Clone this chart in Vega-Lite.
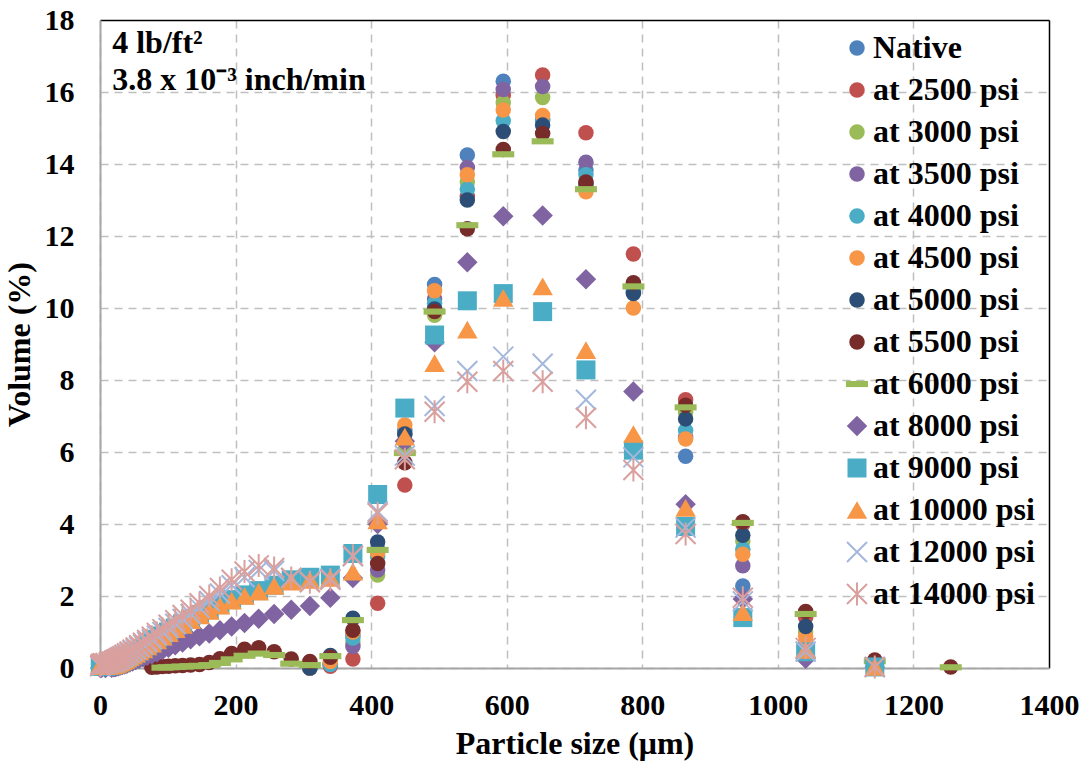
{
  "$schema": "https://vega.github.io/schema/vega-lite/v6.json",
  "width": 949,
  "height": 648,
  "padding": {"left": 3, "top": 5, "right": 33, "bottom": 5},
  "background": "white",
  "config": {
    "font": "Liberation Serif",
    "view": {"stroke": null},
    "axis": {
      "grid": true,
      "gridColor": "#BFBFBF",
      "gridWidth": 1.5,
      "domainColor": "#A6A6A6",
      "domainWidth": 2,
      "ticks": false,
      "labelFlush": false,
      "labelFont": "Liberation Serif",
      "labelFontSize": 30,
      "labelFontWeight": "bold",
      "labelColor": "#000000",
      "titleFont": "Liberation Serif",
      "titleFontSize": 32,
      "titleFontWeight": "bold",
      "titleColor": "#000000"
    },
    "legend": {
      "orient": "none",
      "legendX": 741,
      "legendY": 12,
      "padding": 0,
      "labelFont": "Liberation Serif",
      "labelFontSize": 32,
      "labelFontWeight": "bold",
      "labelColor": "#000000",
      "labelLimit": 400,
      "rowPadding": 10,
      "labelOffset": 0,
      "symbolStrokeWidth": 2,
      "title": null
    }
  },
  "layer": [
    {
      "data": {
        "values": [
          {"series": "Native", "size": 309.6, "volume": 0},
          {"series": "Native", "size": 339.8, "volume": 0.1},
          {"series": "Native", "size": 373.1, "volume": 0.9},
          {"series": "Native", "size": 409.6, "volume": 3.3},
          {"series": "Native", "size": 449.7, "volume": 6.6},
          {"series": "Native", "size": 493.6, "volume": 10.65},
          {"series": "Native", "size": 541.9, "volume": 14.25},
          {"series": "Native", "size": 594.9, "volume": 16.3},
          {"series": "Native", "size": 653.0, "volume": 15.2},
          {"series": "Native", "size": 716.9, "volume": 13.83},
          {"series": "Native", "size": 786.9, "volume": 10.45},
          {"series": "Native", "size": 863.9, "volume": 5.88},
          {"series": "Native", "size": 948.3, "volume": 2.28},
          {"series": "Native", "size": 1041, "volume": 0.6},
          {"series": "Native", "size": 1143, "volume": 0.05},

          {"series": "at 2500 psi", "size": 309.6, "volume": 0},
          {"series": "at 2500 psi", "size": 339.8, "volume": 0.05},
          {"series": "at 2500 psi", "size": 373.1, "volume": 0.25},
          {"series": "at 2500 psi", "size": 409.6, "volume": 1.8},
          {"series": "at 2500 psi", "size": 449.7, "volume": 5.08},
          {"series": "at 2500 psi", "size": 493.6, "volume": 10.0},
          {"series": "at 2500 psi", "size": 541.9, "volume": 13.1},
          {"series": "at 2500 psi", "size": 594.9, "volume": 15.9},
          {"series": "at 2500 psi", "size": 653.0, "volume": 16.47},
          {"series": "at 2500 psi", "size": 716.9, "volume": 14.87},
          {"series": "at 2500 psi", "size": 786.9, "volume": 11.5},
          {"series": "at 2500 psi", "size": 863.9, "volume": 7.45},
          {"series": "at 2500 psi", "size": 948.3, "volume": 4.0},
          {"series": "at 2500 psi", "size": 1041, "volume": 1.4},
          {"series": "at 2500 psi", "size": 1143, "volume": 0.15},

          {"series": "at 3000 psi", "size": 309.6, "volume": 0},
          {"series": "at 3000 psi", "size": 339.8, "volume": 0.12},
          {"series": "at 3000 psi", "size": 373.1, "volume": 0.7},
          {"series": "at 3000 psi", "size": 409.6, "volume": 2.58},
          {"series": "at 3000 psi", "size": 449.7, "volume": 6.05},
          {"series": "at 3000 psi", "size": 493.6, "volume": 9.8},
          {"series": "at 3000 psi", "size": 541.9, "volume": 13.5},
          {"series": "at 3000 psi", "size": 594.9, "volume": 15.7},
          {"series": "at 3000 psi", "size": 653.0, "volume": 15.85},
          {"series": "at 3000 psi", "size": 716.9, "volume": 13.4},
          {"series": "at 3000 psi", "size": 786.9, "volume": 10.65},
          {"series": "at 3000 psi", "size": 863.9, "volume": 7.1},
          {"series": "at 3000 psi", "size": 948.3, "volume": 3.53},
          {"series": "at 3000 psi", "size": 1041, "volume": 1.0},
          {"series": "at 3000 psi", "size": 1143, "volume": 0.1},

          {"series": "at 3500 psi", "size": 309.6, "volume": 0},
          {"series": "at 3500 psi", "size": 339.8, "volume": 0.1},
          {"series": "at 3500 psi", "size": 373.1, "volume": 0.6},
          {"series": "at 3500 psi", "size": 409.6, "volume": 2.72},
          {"series": "at 3500 psi", "size": 449.7, "volume": 6.3},
          {"series": "at 3500 psi", "size": 493.6, "volume": 10.25},
          {"series": "at 3500 psi", "size": 541.9, "volume": 13.9},
          {"series": "at 3500 psi", "size": 594.9, "volume": 16.07},
          {"series": "at 3500 psi", "size": 653.0, "volume": 16.15},
          {"series": "at 3500 psi", "size": 716.9, "volume": 14.05},
          {"series": "at 3500 psi", "size": 786.9, "volume": 10.6},
          {"series": "at 3500 psi", "size": 863.9, "volume": 6.4},
          {"series": "at 3500 psi", "size": 948.3, "volume": 2.84},
          {"series": "at 3500 psi", "size": 1041, "volume": 0.5},
          {"series": "at 3500 psi", "size": 1143, "volume": 0.05},

          {"series": "at 4000 psi", "size": 309.6, "volume": 0},
          {"series": "at 4000 psi", "size": 339.8, "volume": 0.1},
          {"series": "at 4000 psi", "size": 373.1, "volume": 0.83},
          {"series": "at 4000 psi", "size": 409.6, "volume": 3.1},
          {"series": "at 4000 psi", "size": 449.7, "volume": 6.5},
          {"series": "at 4000 psi", "size": 493.6, "volume": 10.13},
          {"series": "at 4000 psi", "size": 541.9, "volume": 13.3},
          {"series": "at 4000 psi", "size": 594.9, "volume": 15.2},
          {"series": "at 4000 psi", "size": 653.0, "volume": 15.25},
          {"series": "at 4000 psi", "size": 716.9, "volume": 13.7},
          {"series": "at 4000 psi", "size": 786.9, "volume": 10.5},
          {"series": "at 4000 psi", "size": 863.9, "volume": 6.6},
          {"series": "at 4000 psi", "size": 948.3, "volume": 3.3},
          {"series": "at 4000 psi", "size": 1041, "volume": 0.7},
          {"series": "at 4000 psi", "size": 1143, "volume": 0.05},

          {"series": "at 4500 psi", "size": 309.6, "volume": 0},
          {"series": "at 4500 psi", "size": 339.8, "volume": 0.18},
          {"series": "at 4500 psi", "size": 373.1, "volume": 1.0},
          {"series": "at 4500 psi", "size": 409.6, "volume": 3.2},
          {"series": "at 4500 psi", "size": 449.7, "volume": 6.75},
          {"series": "at 4500 psi", "size": 493.6, "volume": 10.48},
          {"series": "at 4500 psi", "size": 541.9, "volume": 13.7},
          {"series": "at 4500 psi", "size": 594.9, "volume": 15.5},
          {"series": "at 4500 psi", "size": 653.0, "volume": 15.35},
          {"series": "at 4500 psi", "size": 716.9, "volume": 13.23},
          {"series": "at 4500 psi", "size": 786.9, "volume": 10.0},
          {"series": "at 4500 psi", "size": 863.9, "volume": 6.36},
          {"series": "at 4500 psi", "size": 948.3, "volume": 3.16},
          {"series": "at 4500 psi", "size": 1041, "volume": 0.88},
          {"series": "at 4500 psi", "size": 1143, "volume": 0.07},

          {"series": "at 5000 psi", "size": 309.6, "volume": 0},
          {"series": "at 5000 psi", "size": 339.8, "volume": 0.35},
          {"series": "at 5000 psi", "size": 373.1, "volume": 1.38},
          {"series": "at 5000 psi", "size": 409.6, "volume": 3.5},
          {"series": "at 5000 psi", "size": 449.7, "volume": 6.5},
          {"series": "at 5000 psi", "size": 493.6, "volume": 9.97},
          {"series": "at 5000 psi", "size": 541.9, "volume": 13.0},
          {"series": "at 5000 psi", "size": 594.9, "volume": 14.9},
          {"series": "at 5000 psi", "size": 653.0, "volume": 15.08},
          {"series": "at 5000 psi", "size": 716.9, "volume": 13.45},
          {"series": "at 5000 psi", "size": 786.9, "volume": 10.4},
          {"series": "at 5000 psi", "size": 863.9, "volume": 6.92},
          {"series": "at 5000 psi", "size": 948.3, "volume": 3.69},
          {"series": "at 5000 psi", "size": 1041, "volume": 1.15},
          {"series": "at 5000 psi", "size": 1143, "volume": 0.1},

          {"series": "at 5500 psi", "size": 76.42, "volume": 0.02},
          {"series": "at 5500 psi", "size": 83.89, "volume": 0.03},
          {"series": "at 5500 psi", "size": 92.09, "volume": 0.04},
          {"series": "at 5500 psi", "size": 101.1, "volume": 0.05},
          {"series": "at 5500 psi", "size": 111.0, "volume": 0.06},
          {"series": "at 5500 psi", "size": 121.8, "volume": 0.07},
          {"series": "at 5500 psi", "size": 133.7, "volume": 0.08},
          {"series": "at 5500 psi", "size": 146.8, "volume": 0.1},
          {"series": "at 5500 psi", "size": 161.2, "volume": 0.15},
          {"series": "at 5500 psi", "size": 176.9, "volume": 0.26},
          {"series": "at 5500 psi", "size": 194.2, "volume": 0.4},
          {"series": "at 5500 psi", "size": 213.2, "volume": 0.52},
          {"series": "at 5500 psi", "size": 234.1, "volume": 0.56},
          {"series": "at 5500 psi", "size": 256.9, "volume": 0.45},
          {"series": "at 5500 psi", "size": 282.1, "volume": 0.25},
          {"series": "at 5500 psi", "size": 309.6, "volume": 0.18},
          {"series": "at 5500 psi", "size": 339.8, "volume": 0.3},
          {"series": "at 5500 psi", "size": 373.1, "volume": 1.05},
          {"series": "at 5500 psi", "size": 409.6, "volume": 2.9},
          {"series": "at 5500 psi", "size": 449.7, "volume": 5.7},
          {"series": "at 5500 psi", "size": 493.6, "volume": 9.9},
          {"series": "at 5500 psi", "size": 541.9, "volume": 12.2},
          {"series": "at 5500 psi", "size": 594.9, "volume": 14.4},
          {"series": "at 5500 psi", "size": 653.0, "volume": 14.85},
          {"series": "at 5500 psi", "size": 716.9, "volume": 13.5},
          {"series": "at 5500 psi", "size": 786.9, "volume": 10.7},
          {"series": "at 5500 psi", "size": 863.9, "volume": 7.3},
          {"series": "at 5500 psi", "size": 948.3, "volume": 4.06},
          {"series": "at 5500 psi", "size": 1041, "volume": 1.57},
          {"series": "at 5500 psi", "size": 1143, "volume": 0.22},
          {"series": "at 5500 psi", "size": 1255, "volume": 0.03},

          {"series": "at 6000 psi", "size": 92.09, "volume": 0.01},
          {"series": "at 6000 psi", "size": 101.1, "volume": 0.02},
          {"series": "at 6000 psi", "size": 111.0, "volume": 0.03},
          {"series": "at 6000 psi", "size": 121.8, "volume": 0.04},
          {"series": "at 6000 psi", "size": 133.7, "volume": 0.05},
          {"series": "at 6000 psi", "size": 146.8, "volume": 0.06},
          {"series": "at 6000 psi", "size": 161.2, "volume": 0.08},
          {"series": "at 6000 psi", "size": 176.9, "volume": 0.14},
          {"series": "at 6000 psi", "size": 194.2, "volume": 0.24},
          {"series": "at 6000 psi", "size": 213.2, "volume": 0.34},
          {"series": "at 6000 psi", "size": 234.1, "volume": 0.4},
          {"series": "at 6000 psi", "size": 256.9, "volume": 0.36},
          {"series": "at 6000 psi", "size": 282.1, "volume": 0.12},
          {"series": "at 6000 psi", "size": 309.6, "volume": 0.08},
          {"series": "at 6000 psi", "size": 339.8, "volume": 0.33},
          {"series": "at 6000 psi", "size": 373.1, "volume": 1.33},
          {"series": "at 6000 psi", "size": 409.6, "volume": 3.28},
          {"series": "at 6000 psi", "size": 449.7, "volume": 5.97},
          {"series": "at 6000 psi", "size": 493.6, "volume": 9.9},
          {"series": "at 6000 psi", "size": 541.9, "volume": 12.3},
          {"series": "at 6000 psi", "size": 594.9, "volume": 14.27},
          {"series": "at 6000 psi", "size": 653.0, "volume": 14.63},
          {"series": "at 6000 psi", "size": 716.9, "volume": 13.3},
          {"series": "at 6000 psi", "size": 786.9, "volume": 10.6},
          {"series": "at 6000 psi", "size": 863.9, "volume": 7.24},
          {"series": "at 6000 psi", "size": 948.3, "volume": 4.03},
          {"series": "at 6000 psi", "size": 1041, "volume": 1.5},
          {"series": "at 6000 psi", "size": 1143, "volume": 0.19},
          {"series": "at 6000 psi", "size": 1255, "volume": 0.02},

          {"series": "at 8000 psi", "size": 0.375, "volume": 0},
          {"series": "at 8000 psi", "size": 2.01, "volume": 0},
          {"series": "at 8000 psi", "size": 8.147, "volume": 0},
          {"series": "at 8000 psi", "size": 17.18, "volume": 0.01},
          {"series": "at 8000 psi", "size": 20.70, "volume": 0.02},
          {"series": "at 8000 psi", "size": 22.73, "volume": 0.03},
          {"series": "at 8000 psi", "size": 24.95, "volume": 0.04},
          {"series": "at 8000 psi", "size": 27.39, "volume": 0.05},
          {"series": "at 8000 psi", "size": 30.07, "volume": 0.07},
          {"series": "at 8000 psi", "size": 33.01, "volume": 0.08},
          {"series": "at 8000 psi", "size": 36.24, "volume": 0.1},
          {"series": "at 8000 psi", "size": 39.78, "volume": 0.12},
          {"series": "at 8000 psi", "size": 43.67, "volume": 0.15},
          {"series": "at 8000 psi", "size": 47.94, "volume": 0.18},
          {"series": "at 8000 psi", "size": 52.62, "volume": 0.22},
          {"series": "at 8000 psi", "size": 57.77, "volume": 0.26},
          {"series": "at 8000 psi", "size": 63.41, "volume": 0.3},
          {"series": "at 8000 psi", "size": 69.61, "volume": 0.34},
          {"series": "at 8000 psi", "size": 76.42, "volume": 0.38},
          {"series": "at 8000 psi", "size": 83.89, "volume": 0.44},
          {"series": "at 8000 psi", "size": 92.09, "volume": 0.5},
          {"series": "at 8000 psi", "size": 101.1, "volume": 0.56},
          {"series": "at 8000 psi", "size": 111.0, "volume": 0.63},
          {"series": "at 8000 psi", "size": 121.8, "volume": 0.71},
          {"series": "at 8000 psi", "size": 133.7, "volume": 0.8},
          {"series": "at 8000 psi", "size": 146.8, "volume": 0.88},
          {"series": "at 8000 psi", "size": 161.2, "volume": 0.96},
          {"series": "at 8000 psi", "size": 176.9, "volume": 1.05},
          {"series": "at 8000 psi", "size": 194.2, "volume": 1.15},
          {"series": "at 8000 psi", "size": 213.2, "volume": 1.25},
          {"series": "at 8000 psi", "size": 234.1, "volume": 1.37},
          {"series": "at 8000 psi", "size": 256.9, "volume": 1.5},
          {"series": "at 8000 psi", "size": 282.1, "volume": 1.62},
          {"series": "at 8000 psi", "size": 309.6, "volume": 1.72},
          {"series": "at 8000 psi", "size": 339.8, "volume": 1.95},
          {"series": "at 8000 psi", "size": 373.1, "volume": 2.5},
          {"series": "at 8000 psi", "size": 409.6, "volume": 4.0},
          {"series": "at 8000 psi", "size": 449.7, "volume": 6.3},
          {"series": "at 8000 psi", "size": 493.6, "volume": 9.05},
          {"series": "at 8000 psi", "size": 541.9, "volume": 11.27},
          {"series": "at 8000 psi", "size": 594.9, "volume": 12.55},
          {"series": "at 8000 psi", "size": 653.0, "volume": 12.57},
          {"series": "at 8000 psi", "size": 716.9, "volume": 10.8},
          {"series": "at 8000 psi", "size": 786.9, "volume": 7.68},
          {"series": "at 8000 psi", "size": 863.9, "volume": 4.55},
          {"series": "at 8000 psi", "size": 948.3, "volume": 1.92},
          {"series": "at 8000 psi", "size": 1041, "volume": 0.26},
          {"series": "at 8000 psi", "size": 1143, "volume": 0.03},

          {"series": "at 9000 psi", "size": 0.375, "volume": 0.1},
          {"series": "at 9000 psi", "size": 0.954, "volume": 0.07},
          {"series": "at 9000 psi", "size": 2.01, "volume": 0.05},
          {"series": "at 9000 psi", "size": 4.24, "volume": 0.05},
          {"series": "at 9000 psi", "size": 8.147, "volume": 0.05},
          {"series": "at 9000 psi", "size": 12.99, "volume": 0.06},
          {"series": "at 9000 psi", "size": 17.18, "volume": 0.08},
          {"series": "at 9000 psi", "size": 20.70, "volume": 0.1},
          {"series": "at 9000 psi", "size": 22.73, "volume": 0.11},
          {"series": "at 9000 psi", "size": 24.95, "volume": 0.13},
          {"series": "at 9000 psi", "size": 27.39, "volume": 0.15},
          {"series": "at 9000 psi", "size": 30.07, "volume": 0.17},
          {"series": "at 9000 psi", "size": 33.01, "volume": 0.2},
          {"series": "at 9000 psi", "size": 36.24, "volume": 0.23},
          {"series": "at 9000 psi", "size": 39.78, "volume": 0.27},
          {"series": "at 9000 psi", "size": 43.67, "volume": 0.31},
          {"series": "at 9000 psi", "size": 47.94, "volume": 0.36},
          {"series": "at 9000 psi", "size": 52.62, "volume": 0.41},
          {"series": "at 9000 psi", "size": 57.77, "volume": 0.47},
          {"series": "at 9000 psi", "size": 63.41, "volume": 0.54},
          {"series": "at 9000 psi", "size": 69.61, "volume": 0.62},
          {"series": "at 9000 psi", "size": 76.42, "volume": 0.7},
          {"series": "at 9000 psi", "size": 83.89, "volume": 0.79},
          {"series": "at 9000 psi", "size": 92.09, "volume": 0.89},
          {"series": "at 9000 psi", "size": 101.1, "volume": 1.0},
          {"series": "at 9000 psi", "size": 111.0, "volume": 1.11},
          {"series": "at 9000 psi", "size": 121.8, "volume": 1.23},
          {"series": "at 9000 psi", "size": 133.7, "volume": 1.36},
          {"series": "at 9000 psi", "size": 146.8, "volume": 1.49},
          {"series": "at 9000 psi", "size": 161.2, "volume": 1.62},
          {"series": "at 9000 psi", "size": 176.9, "volume": 1.76},
          {"series": "at 9000 psi", "size": 194.2, "volume": 1.9},
          {"series": "at 9000 psi", "size": 213.2, "volume": 2.03},
          {"series": "at 9000 psi", "size": 234.1, "volume": 2.15},
          {"series": "at 9000 psi", "size": 256.9, "volume": 2.3},
          {"series": "at 9000 psi", "size": 282.1, "volume": 2.45},
          {"series": "at 9000 psi", "size": 309.6, "volume": 2.52},
          {"series": "at 9000 psi", "size": 339.8, "volume": 2.58},
          {"series": "at 9000 psi", "size": 373.1, "volume": 3.18},
          {"series": "at 9000 psi", "size": 409.6, "volume": 4.82},
          {"series": "at 9000 psi", "size": 449.7, "volume": 7.22},
          {"series": "at 9000 psi", "size": 493.6, "volume": 9.25},
          {"series": "at 9000 psi", "size": 541.9, "volume": 10.2},
          {"series": "at 9000 psi", "size": 594.9, "volume": 10.4},
          {"series": "at 9000 psi", "size": 653.0, "volume": 9.9},
          {"series": "at 9000 psi", "size": 716.9, "volume": 8.28},
          {"series": "at 9000 psi", "size": 786.9, "volume": 6.05},
          {"series": "at 9000 psi", "size": 863.9, "volume": 3.93},
          {"series": "at 9000 psi", "size": 948.3, "volume": 1.4},
          {"series": "at 9000 psi", "size": 1041, "volume": 0.45},
          {"series": "at 9000 psi", "size": 1143, "volume": 0.03},

          {"series": "at 10000 psi", "size": 0.375, "volume": 0.08},
          {"series": "at 10000 psi", "size": 0.954, "volume": 0.06},
          {"series": "at 10000 psi", "size": 2.01, "volume": 0.05},
          {"series": "at 10000 psi", "size": 4.24, "volume": 0.05},
          {"series": "at 10000 psi", "size": 8.147, "volume": 0.05},
          {"series": "at 10000 psi", "size": 12.99, "volume": 0.06},
          {"series": "at 10000 psi", "size": 17.18, "volume": 0.07},
          {"series": "at 10000 psi", "size": 20.70, "volume": 0.09},
          {"series": "at 10000 psi", "size": 22.73, "volume": 0.1},
          {"series": "at 10000 psi", "size": 24.95, "volume": 0.12},
          {"series": "at 10000 psi", "size": 27.39, "volume": 0.14},
          {"series": "at 10000 psi", "size": 30.07, "volume": 0.16},
          {"series": "at 10000 psi", "size": 33.01, "volume": 0.19},
          {"series": "at 10000 psi", "size": 36.24, "volume": 0.22},
          {"series": "at 10000 psi", "size": 39.78, "volume": 0.26},
          {"series": "at 10000 psi", "size": 43.67, "volume": 0.3},
          {"series": "at 10000 psi", "size": 47.94, "volume": 0.35},
          {"series": "at 10000 psi", "size": 52.62, "volume": 0.4},
          {"series": "at 10000 psi", "size": 57.77, "volume": 0.46},
          {"series": "at 10000 psi", "size": 63.41, "volume": 0.52},
          {"series": "at 10000 psi", "size": 69.61, "volume": 0.6},
          {"series": "at 10000 psi", "size": 76.42, "volume": 0.68},
          {"series": "at 10000 psi", "size": 83.89, "volume": 0.77},
          {"series": "at 10000 psi", "size": 92.09, "volume": 0.87},
          {"series": "at 10000 psi", "size": 101.1, "volume": 0.97},
          {"series": "at 10000 psi", "size": 111.0, "volume": 1.08},
          {"series": "at 10000 psi", "size": 121.8, "volume": 1.2},
          {"series": "at 10000 psi", "size": 133.7, "volume": 1.33},
          {"series": "at 10000 psi", "size": 146.8, "volume": 1.46},
          {"series": "at 10000 psi", "size": 161.2, "volume": 1.59},
          {"series": "at 10000 psi", "size": 176.9, "volume": 1.73},
          {"series": "at 10000 psi", "size": 194.2, "volume": 1.87},
          {"series": "at 10000 psi", "size": 213.2, "volume": 2.0},
          {"series": "at 10000 psi", "size": 234.1, "volume": 2.12},
          {"series": "at 10000 psi", "size": 256.9, "volume": 2.28},
          {"series": "at 10000 psi", "size": 282.1, "volume": 2.4},
          {"series": "at 10000 psi", "size": 309.6, "volume": 2.45},
          {"series": "at 10000 psi", "size": 339.8, "volume": 2.5},
          {"series": "at 10000 psi", "size": 373.1, "volume": 2.68},
          {"series": "at 10000 psi", "size": 409.6, "volume": 4.1},
          {"series": "at 10000 psi", "size": 449.7, "volume": 6.43},
          {"series": "at 10000 psi", "size": 493.6, "volume": 8.47},
          {"series": "at 10000 psi", "size": 541.9, "volume": 9.4},
          {"series": "at 10000 psi", "size": 594.9, "volume": 10.28},
          {"series": "at 10000 psi", "size": 653.0, "volume": 10.6},
          {"series": "at 10000 psi", "size": 716.9, "volume": 8.83},
          {"series": "at 10000 psi", "size": 786.9, "volume": 6.5},
          {"series": "at 10000 psi", "size": 863.9, "volume": 4.45},
          {"series": "at 10000 psi", "size": 948.3, "volume": 1.55},
          {"series": "at 10000 psi", "size": 1041, "volume": 0.5},
          {"series": "at 10000 psi", "size": 1143, "volume": 0.03},

          {"series": "at 12000 psi", "size": 0.375, "volume": 0.05},
          {"series": "at 12000 psi", "size": 0.954, "volume": 0.08},
          {"series": "at 12000 psi", "size": 2.01, "volume": 0.1},
          {"series": "at 12000 psi", "size": 4.24, "volume": 0.11},
          {"series": "at 12000 psi", "size": 8.147, "volume": 0.12},
          {"series": "at 12000 psi", "size": 12.99, "volume": 0.14},
          {"series": "at 12000 psi", "size": 17.18, "volume": 0.16},
          {"series": "at 12000 psi", "size": 20.70, "volume": 0.18},
          {"series": "at 12000 psi", "size": 22.73, "volume": 0.2},
          {"series": "at 12000 psi", "size": 24.95, "volume": 0.22},
          {"series": "at 12000 psi", "size": 27.39, "volume": 0.24},
          {"series": "at 12000 psi", "size": 30.07, "volume": 0.27},
          {"series": "at 12000 psi", "size": 33.01, "volume": 0.3},
          {"series": "at 12000 psi", "size": 36.24, "volume": 0.33},
          {"series": "at 12000 psi", "size": 39.78, "volume": 0.37},
          {"series": "at 12000 psi", "size": 43.67, "volume": 0.42},
          {"series": "at 12000 psi", "size": 47.94, "volume": 0.47},
          {"series": "at 12000 psi", "size": 52.62, "volume": 0.52},
          {"series": "at 12000 psi", "size": 57.77, "volume": 0.58},
          {"series": "at 12000 psi", "size": 63.41, "volume": 0.65},
          {"series": "at 12000 psi", "size": 69.61, "volume": 0.72},
          {"series": "at 12000 psi", "size": 76.42, "volume": 0.8},
          {"series": "at 12000 psi", "size": 83.89, "volume": 0.9},
          {"series": "at 12000 psi", "size": 92.09, "volume": 1.0},
          {"series": "at 12000 psi", "size": 101.1, "volume": 1.11},
          {"series": "at 12000 psi", "size": 111.0, "volume": 1.23},
          {"series": "at 12000 psi", "size": 121.8, "volume": 1.36},
          {"series": "at 12000 psi", "size": 133.7, "volume": 1.5},
          {"series": "at 12000 psi", "size": 146.8, "volume": 1.67},
          {"series": "at 12000 psi", "size": 161.2, "volume": 1.86},
          {"series": "at 12000 psi", "size": 176.9, "volume": 2.07},
          {"series": "at 12000 psi", "size": 194.2, "volume": 2.3},
          {"series": "at 12000 psi", "size": 213.2, "volume": 2.52},
          {"series": "at 12000 psi", "size": 234.1, "volume": 2.72},
          {"series": "at 12000 psi", "size": 256.9, "volume": 2.7},
          {"series": "at 12000 psi", "size": 282.1, "volume": 2.5},
          {"series": "at 12000 psi", "size": 309.6, "volume": 2.4},
          {"series": "at 12000 psi", "size": 339.8, "volume": 2.48},
          {"series": "at 12000 psi", "size": 373.1, "volume": 3.1},
          {"series": "at 12000 psi", "size": 409.6, "volume": 4.35},
          {"series": "at 12000 psi", "size": 449.7, "volume": 5.9},
          {"series": "at 12000 psi", "size": 493.6, "volume": 7.28},
          {"series": "at 12000 psi", "size": 541.9, "volume": 8.25},
          {"series": "at 12000 psi", "size": 594.9, "volume": 8.65},
          {"series": "at 12000 psi", "size": 653.0, "volume": 8.45},
          {"series": "at 12000 psi", "size": 716.9, "volume": 7.45},
          {"series": "at 12000 psi", "size": 786.9, "volume": 5.85},
          {"series": "at 12000 psi", "size": 863.9, "volume": 3.9},
          {"series": "at 12000 psi", "size": 948.3, "volume": 1.85},
          {"series": "at 12000 psi", "size": 1041, "volume": 0.46},
          {"series": "at 12000 psi", "size": 1143, "volume": 0.03},

          {"series": "at 14000 psi", "size": 0.375, "volume": 0.06},
          {"series": "at 14000 psi", "size": 0.954, "volume": 0.1},
          {"series": "at 14000 psi", "size": 2.01, "volume": 0.12},
          {"series": "at 14000 psi", "size": 4.24, "volume": 0.13},
          {"series": "at 14000 psi", "size": 8.147, "volume": 0.14},
          {"series": "at 14000 psi", "size": 12.99, "volume": 0.16},
          {"series": "at 14000 psi", "size": 17.18, "volume": 0.18},
          {"series": "at 14000 psi", "size": 20.70, "volume": 0.2},
          {"series": "at 14000 psi", "size": 22.73, "volume": 0.22},
          {"series": "at 14000 psi", "size": 24.95, "volume": 0.24},
          {"series": "at 14000 psi", "size": 27.39, "volume": 0.27},
          {"series": "at 14000 psi", "size": 30.07, "volume": 0.3},
          {"series": "at 14000 psi", "size": 33.01, "volume": 0.33},
          {"series": "at 14000 psi", "size": 36.24, "volume": 0.37},
          {"series": "at 14000 psi", "size": 39.78, "volume": 0.41},
          {"series": "at 14000 psi", "size": 43.67, "volume": 0.46},
          {"series": "at 14000 psi", "size": 47.94, "volume": 0.51},
          {"series": "at 14000 psi", "size": 52.62, "volume": 0.57},
          {"series": "at 14000 psi", "size": 57.77, "volume": 0.63},
          {"series": "at 14000 psi", "size": 63.41, "volume": 0.7},
          {"series": "at 14000 psi", "size": 69.61, "volume": 0.78},
          {"series": "at 14000 psi", "size": 76.42, "volume": 0.87},
          {"series": "at 14000 psi", "size": 83.89, "volume": 0.97},
          {"series": "at 14000 psi", "size": 92.09, "volume": 1.08},
          {"series": "at 14000 psi", "size": 101.1, "volume": 1.2},
          {"series": "at 14000 psi", "size": 111.0, "volume": 1.33},
          {"series": "at 14000 psi", "size": 121.8, "volume": 1.47},
          {"series": "at 14000 psi", "size": 133.7, "volume": 1.62},
          {"series": "at 14000 psi", "size": 146.8, "volume": 1.8},
          {"series": "at 14000 psi", "size": 161.2, "volume": 2.0},
          {"series": "at 14000 psi", "size": 176.9, "volume": 2.22},
          {"series": "at 14000 psi", "size": 194.2, "volume": 2.45},
          {"series": "at 14000 psi", "size": 213.2, "volume": 2.68},
          {"series": "at 14000 psi", "size": 234.1, "volume": 2.85},
          {"series": "at 14000 psi", "size": 256.9, "volume": 2.78},
          {"series": "at 14000 psi", "size": 282.1, "volume": 2.5},
          {"series": "at 14000 psi", "size": 309.6, "volume": 2.38},
          {"series": "at 14000 psi", "size": 339.8, "volume": 2.45},
          {"series": "at 14000 psi", "size": 373.1, "volume": 3.12},
          {"series": "at 14000 psi", "size": 409.6, "volume": 4.3},
          {"series": "at 14000 psi", "size": 449.7, "volume": 5.8},
          {"series": "at 14000 psi", "size": 493.6, "volume": 7.12},
          {"series": "at 14000 psi", "size": 541.9, "volume": 7.95},
          {"series": "at 14000 psi", "size": 594.9, "volume": 8.25},
          {"series": "at 14000 psi", "size": 653.0, "volume": 7.95},
          {"series": "at 14000 psi", "size": 716.9, "volume": 6.95},
          {"series": "at 14000 psi", "size": 786.9, "volume": 5.5},
          {"series": "at 14000 psi", "size": 863.9, "volume": 3.72},
          {"series": "at 14000 psi", "size": 948.3, "volume": 1.95},
          {"series": "at 14000 psi", "size": 1041, "volume": 0.56},
          {"series": "at 14000 psi", "size": 1143, "volume": 0.03}
        ]
      },
      "mark": {"type": "point", "filled": true, "opacity": 1, "strokeWidth": 2},
      "encoding": {
        "x": {
          "field": "size", "type": "quantitative",
          "scale": {"domain": [0, 1400], "nice": false, "zero": false},
          "axis": {
            "values": [0, 200, 400, 600, 800, 1000, 1200, 1400],
            "format": "d",
            "title": "Particle size (μm)",
            "labelPadding": 22,
            "titlePadding": 8,
            "gridDash": {"condition": {"test": "datum.value === 1400", "value": []}, "value": [8, 6]},
            "gridColor": {"condition": {"test": "datum.value === 1400", "value": "#000000"}, "value": "#BFBFBF"}
          }
        },
        "y": {
          "field": "volume", "type": "quantitative",
          "scale": {"domain": [0, 18], "nice": false},
          "axis": {
            "values": [0, 2, 4, 6, 8, 10, 12, 14, 16, 18],
            "format": "d",
            "title": "Volume (%)",
            "labelPadding": 26,
            "titlePadding": 8,
            "gridDash": {"condition": {"test": "datum.value === 18", "value": []}, "value": [8, 6]},
            "gridColor": {"condition": {"test": "datum.value === 18", "value": "#000000"}, "value": "#BFBFBF"}
          }
        },
        "fill": {
          "field": "series", "type": "nominal",
          "scale": {
            "domain": ["Native", "at 2500 psi", "at 3000 psi", "at 3500 psi", "at 4000 psi", "at 4500 psi", "at 5000 psi", "at 5500 psi", "at 6000 psi", "at 8000 psi", "at 9000 psi", "at 10000 psi", "at 12000 psi", "at 14000 psi"],
            "range": ["#4F81BD", "#C0504D", "#9BBB59", "#8064A2", "#4BACC6", "#F79646", "#2C4D75", "#772C2A", "#9BBB59", "#8064A2", "#4BACC6", "#F79646", "transparent", "transparent"]
          }
        },
        "stroke": {
          "field": "series", "type": "nominal",
          "scale": {
            "domain": ["Native", "at 2500 psi", "at 3000 psi", "at 3500 psi", "at 4000 psi", "at 4500 psi", "at 5000 psi", "at 5500 psi", "at 6000 psi", "at 8000 psi", "at 9000 psi", "at 10000 psi", "at 12000 psi", "at 14000 psi"],
            "range": ["transparent", "transparent", "transparent", "transparent", "transparent", "transparent", "transparent", "transparent", "transparent", "transparent", "transparent", "transparent", "#A5B8DC", "#D9A09E"]
          }
        },
        "shape": {
          "field": "series", "type": "nominal",
          "scale": {
            "domain": ["Native", "at 2500 psi", "at 3000 psi", "at 3500 psi", "at 4000 psi", "at 4500 psi", "at 5000 psi", "at 5500 psi", "at 6000 psi", "at 8000 psi", "at 9000 psi", "at 10000 psi", "at 12000 psi", "at 14000 psi"],
            "range": ["circle", "circle", "circle", "circle", "circle", "circle", "circle", "circle", "M-1,-0.28H1V0.28H-1Z", "diamond", "square", "triangle-up", "M-1,-1L1,1M-1,1L1,-1", "M-1,-1L1,1M-1,1L1,-1M0,-1.15L0,1.15"]
          }
        },
        "size": {
          "field": "series", "type": "nominal",
          "scale": {
            "type": "ordinal",
            "domain": ["Native", "at 2500 psi", "at 3000 psi", "at 3500 psi", "at 4000 psi", "at 4500 psi", "at 5000 psi", "at 5500 psi", "at 6000 psi", "at 8000 psi", "at 9000 psi", "at 10000 psi", "at 12000 psi", "at 14000 psi"],
            "range": [240, 240, 240, 240, 240, 240, 240, 240, 484, 420, 361, 420, 400, 400]
          }
        },
        "order": {"value": 0}
      }
    },
    {
      "data": {
        "values": [
          {"x": 18, "y": 17.35, "note": "4 lb/ft²"},
          {"x": 18, "y": 16.33, "note": "3.8 x 10⁻³ inch/min"}
        ]
      },
      "mark": {"type": "text", "align": "left", "baseline": "middle", "font": "Liberation Serif", "fontSize": 32, "fontWeight": "bold", "color": "#000000"},
      "encoding": {
        "x": {"field": "x", "type": "quantitative"},
        "y": {"field": "y", "type": "quantitative"},
        "text": {"field": "note", "type": "nominal"}
      }
    }
  ]
}
